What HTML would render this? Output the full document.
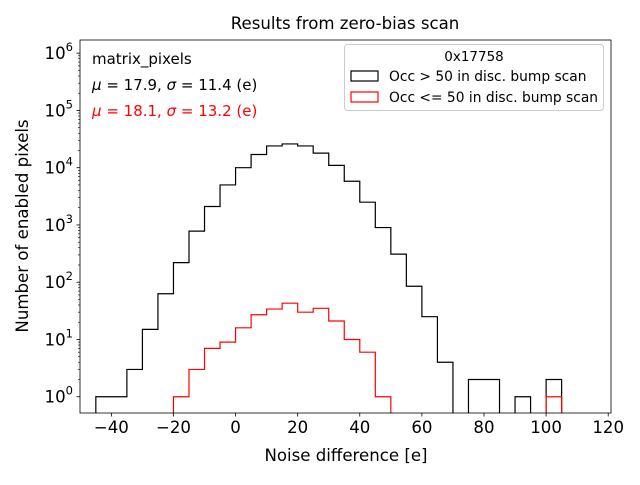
<!DOCTYPE html>
<html><head><meta charset="utf-8"><style>
body{margin:0;background:#fff;font-family:"Liberation Sans","DejaVu Sans",sans-serif}
svg text{font-family:"DejaVu Sans","Liberation Sans",sans-serif}
</style></head><body>
<svg id="chart" width="640" height="480" xmlns="http://www.w3.org/2000/svg">
<rect width="640" height="480" fill="#fff"/>
<g id="plot"></g>
</svg>
<script>
const binEdgesStart = -45;
const binWidth = 5;
const blackCounts = [1,1,3,15,63,220,780,2100,5000,10000,17000,24000,26000,24000,18000,11000,5800,2500,900,310,85,25,4,0,2,2,0,1,0,2];
const redStart = -20;
const redCounts = [1,3,7,9,16,27,34,43,30,35,21,10,6,1,0,0,0,0,0,0,0,0,0,0,1];
const xTicks = [-40,-20,0,20,40,60,80,100,120];
const yTicks = [0,1,2,3,4,5,6];

const L=80,R=611,T=40,B=413;
const xmin=-50.1,xmax=120.9;
const ymin=Math.log10(0.52),ymax=Math.log10(1.7e6);
const xs=v=>L+(v-xmin)/(xmax-xmin)*(R-L);
const ys=v=>B-(Math.log10(v)-ymin)/(ymax-ymin)*(B-T);
const NS="http://www.w3.org/2000/svg";
const g=document.getElementById('plot');
function mk(t,a,txt){const e=document.createElementNS(NS,t);for(const k in a)e.setAttribute(k,a[k]);if(txt!==undefined)e.textContent=txt;g.appendChild(e);return e;}

function stepPath(start,counts){
  let d='';let prev=0;
  counts.forEach((c,i)=>{
    const x0=xs(start+i*binWidth),x1=xs(start+(i+1)*binWidth);
    if(c>0){
      const y=ys(c);
      if(prev>0) d+=`L${x0},${y}`; else d+=`M${x0},${B}L${x0},${y}`;
      d+=`L${x1},${y}`;
    } else if(prev>0){ d+=`L${x0},${B}`; }
    prev=c;
  });
  if(prev>0) d+=`L${xs(start+counts.length*binWidth)},${B}`;
  return d;
}
const pb=mk('path',{d:stepPath(binEdgesStart,blackCounts),fill:'none',stroke:'#000','stroke-width':1.2});


const pr=mk('path',{d:stepPath(redStart,redCounts),fill:'none',stroke:'#f00','stroke-width':1.2});



const frame=mk('rect',{x:L,y:T,width:R-L,height:B-T,fill:'none',stroke:'#000','stroke-width':0.8});



xTicks.forEach(v=>{const x=xs(v);mk('line',{x1:x,x2:x,y1:B,y2:B+3.5,stroke:'#000','stroke-width':0.8});
  const t=mk('text',{x:x,y:B+20,'font-size':16.6,'text-anchor':'middle'},String(v).replace('-','−'));
  
  });
yTicks.forEach(p=>{const y=ys(Math.pow(10,p));mk('line',{x1:L,x2:L-3.5,y1:y,y2:y,stroke:'#000','stroke-width':0.8});
  const t=mk('text',{x:L-7,y:y+6,'font-size':16.6,'text-anchor':'end'});
  
  
  t.innerHTML=`10<tspan dy="-8" font-size="11.5">${p}</tspan>`;
  for(let m=2;m<10;m++){const yy=ys(m*Math.pow(10,p));if(yy>T&&yy<B)mk('line',{x1:L,x2:L-2,y1:yy,y2:yy,stroke:'#000','stroke-width':0.6});}
});

let e;
e=mk('text',{x:345,y:29,'font-size':16.6,'text-anchor':'middle'},'Results from zero-bias scan');
e=mk('text',{x:346,y:461,'font-size':16.6,'text-anchor':'middle'},'Noise difference [e]');
e=mk('text',{x:28,y:226,'font-size':16.6,'text-anchor':'middle',transform:'rotate(-90 28 226)'},'Number of enabled pixels');
e=mk('text',{x:92,y:64,'font-size':15},'matrix_pixels');
e=mk('text',{x:92,y:90,'font-size':15});e.innerHTML='<tspan font-style="italic">μ</tspan> = 17.9, <tspan font-style="italic">σ</tspan> = 11.4 (e)';
e=mk('text',{x:92,y:116,'font-size':15,fill:'#f00'});e.innerHTML='<tspan font-style="italic">μ</tspan> = 18.1, <tspan font-style="italic">σ</tspan> = 13.2 (e)';

e=mk('rect',{x:344.5,y:44.5,width:259,height:66,rx:3,fill:'#fff',stroke:'#ccc','stroke-width':1});
e=mk('text',{x:474,y:61,'font-size':13.5,'text-anchor':'middle'},'0x17758');
mk('rect',{x:351,y:71,width:27,height:10,fill:'none',stroke:'#000','stroke-width':1.2});
e=mk('text',{x:389,y:81,'font-size':13.8},'Occ > 50 in disc. bump scan');
mk('rect',{x:351,y:92,width:27,height:10,fill:'none',stroke:'#f00','stroke-width':1.2});
e=mk('text',{x:389,y:102,'font-size':13.8},'Occ <= 50 in disc. bump scan');
</script>
</body></html>
